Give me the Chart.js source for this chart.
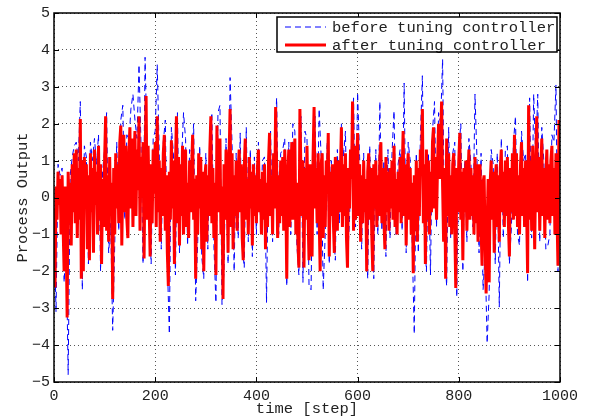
<!DOCTYPE html>
<html>
<head>
<meta charset="utf-8">
<title>Process Output</title>
<script src="https://cdn.jsdelivr.net/npm/chart.js@4.4.1/dist/chart.umd.min.js"></script>
<style>
  body { margin: 0; background: #fff; }
</style>
</head>
<body>
<canvas id="myChart" width="590" height="418"></canvas>

<script>
  const seriesNames = ["before tuning controller", "after tuning controller"];

  // sampling of the time axis: before-series every 4 steps, after-series every 2
  const beforeStep = 4;
  const afterStep = 2;

  // before tuning (blue dashed), steps 0,4,...,1000
  const beforeTuning = [
    -0.5, -3.1, 0.9, 0.6, 0.8, -2.3, -1.2, -4.8, 0.6, 1.1, 1.4, 1.5, 1.0, 2.6, -2.5, 1.4, 1.1, -1.8, 1.5, 1.0, 1.6, 0.9, 1.7, -2.0, 0.7,
    1.3, 2.3, -1.5, -0.7, -3.6, -1.3, 1.5, -0.9, 2.1, 2.5, -0.6, 1.7, 1.5, 2.4, 2.8, 2.1, 1.6, 3.6, 1.4, -1.8, 3.8, 1.3, -0.4, -1.8, 1.6,
    1.8, 3.6, 1.2, -1.4, 1.5, 2.1, -1.8, -3.7, 1.9, 1.2, -2.1, 2.3, -1.5, 1.0, 2.3, 1.6, -1.3, 1.3, 1.1, 2.0, -2.8, -1.2, 1.4, -1.6, -2.2,
    1.2, -1.4, 1.6, 2.3, -1.3, -2.85, 2.3, 2.5, -2.9, -2.0, 1.6, -1.8, 3.25, 1.4, -2.0, 1.2, -1.1, 1.75, -1.3, -1.9, 1.9, -1.2, 1.3, -1.6, 1.1,
    -1.0, 1.5, -0.6, 1.0, 1.1, -2.85, 1.2, 1.8, -1.2, 1.4, 2.7, -1.0, 1.2, 1.3, 1.6, -2.4, 1.5, -1.0, 2.0, 1.8, -1.3, -2.1, 2.2, -2.3, 1.8,
    1.6, -2.4, -2.5, 1.3, 2.2, -1.0, 2.4, 1.1, -2.5, -1.0, 1.5, -1.8, 1.0, -0.8, -1.7, 1.3, -0.7, 2.0, 1.1, 1.8, -1.8, -0.6, 1.5, 2.7, -0.8,
    2.85, 1.1, -1.4, 1.2, -0.8, -2.2, 1.4, -1.2, -2.2, 1.3, -1.0, 2.6, -0.9, 1.0, -1.6, 1.3, -1.1, 1.2, 2.35, -1.0, 0.9, 1.3, -0.9, 3.1, -1.5,
    1.5, 1.0, -1.3, -3.7, 1.2, -1.5, 1.6, 3.3, -0.9, -2.0, 1.2, -2.1, 1.8, 2.6, -0.8, 2.3, 2.0, 3.75, -1.5, -2.4, 1.9, -1.1, 1.2, 1.5, -2.7,
    1.3, 2.0, -2.0, 1.0, -1.2, 1.6, 0.9, -0.8, 2.8, 1.0, -1.5, 1.2, -2.5, -1.5, -3.95, -2.6, 1.3, 0.9, -1.8, 1.2, -2.97, 1.6, -1.1, 1.3, 1.4,
    -1.8, -0.8, 1.5, 2.2, -1.0, -1.3, 1.8, 1.0, 1.2, -2.3, 2.7, -1.1, 2.8, 1.1, 2.8, -1.2, 1.9, 1.0, -1.4, -1.3, -1.0, 1.7, 1.5, 3.05, -2.0,
    2.0
  ];

  // after tuning (red solid), steps 0,2,...,1000
  const afterTuning = [
    -0.3, -2.44, 0.3, -0.6, 0.7, -0.2, 0.5, -1.0, 0.6, -0.8, -2.0, 0.3, -0.9, -3.25, 0.7, -0.5, 0.4, -1.3, 0.9, -0.4, 1.2, -0.7, 1.3, -1.1, 0.8,
    -0.6, 2.13, -2.2, 1.0, -2.0, 1.1, -0.3, 0.9, -1.4, 0.6, -1.7, 1.2, -0.4, 0.8, -1.5, 1.3, -0.2, 0.7, -1.0, 1.4, -0.6, 0.9, -1.8, 0.5, -0.8,
    1.0, 2.2, -0.9, 0.6, -1.2, 1.1, -0.5, 0.4, -2.75, 0.8, -1.0, 1.2, -0.3, 0.9, -0.7, 1.5, 1.95, -1.3, 0.7, 1.7, -0.4, 1.4, -0.6, -1.1, 1.2,
    1.9, -0.3, 1.6, -0.8, 1.0, 1.8, -0.5, 1.3, 0.2, 2.2, -0.9, 1.1, 0.4, 1.5, -1.65, 1.0, 2.75, -0.6, 1.4, -0.2, -1.6, 0.9, -0.7, 1.3, 0.1,
    1.5, -0.8, 2.2, -0.4, 1.0, -1.2, 0.8, -0.5, 1.2, 1.7, -0.9, 0.6, -1.5, -2.4, 0.7, -0.6, 1.55, -0.3, 1.0, -1.8, 0.8, 2.2, -0.7, 1.1, -1.3,
    0.9, -0.5, 1.4, -1.0, 0.6, 1.3, -0.8, 0.4, -1.1, 1.0, -0.4, 0.8, 1.7, -0.6, 0.5, -2.2, 0.6, -1.0, 1.2, -0.3, 1.1, -1.4, 0.7, -2.0, 0.5,
    0.9, -1.2, 0.6, -0.5, 1.3, 2.2, -0.7, 0.8, -1.1, 0.4, -2.1, 1.95, -0.4, 1.0, 1.6, -1.0, 0.3, -2.75, 0.9, -0.6, 1.3, 0.5, -1.5, 1.1, 2.4,
    -0.8, 1.2, -1.4, 0.6, -0.5, 1.0, -0.9, 0.7, 1.3, -0.4, 0.9, -1.1, -1.7, 0.8, 1.6, -0.6, 0.5, -1.0, 1.1, -0.3, 0.7, -1.3, 0.9, -0.5, 0.6,
    -0.7, 0.8, 1.3, -0.4, 0.5, -1.0, 0.7, -0.6, 0.9, -1.4, 0.4, -0.8, 1.0, 1.75, -0.5, 0.6, -1.0, 1.2, -0.3, 2.45, 0.8, -1.1, 0.6, -0.7, 1.0,
    -0.5, 1.1, -0.9, 1.3, 0.3, -2.2, 0.6, 1.3, -0.8, 0.5, 1.5, -0.6, 0.9, 1.6, -1.0, 0.4, -1.2, -1.9, 2.4, 0.7, -0.5, 1.0, -1.9, 0.8, -0.6,
    1.4, -0.4, -1.7, 0.9, -0.8, -1.6, 1.1, 2.45, -0.3, 0.8, -0.7, 1.2, -0.5, -2.0, 0.9, 1.2, -1.1, 0.6, -0.8, 1.0, 0.4, 1.75, -1.6, 0.7, -0.5,
    0.9, -0.6, -1.5, 1.1, 0.3, -0.9, 1.0, -0.4, 0.7, 1.9, -0.8, 0.9, -0.5, 1.2, -1.1, -1.9, 0.8, -0.3, 1.3, 0.5, 2.6, -0.9, 1.4, -0.6, 0.8,
    1.75, -0.5, 0.9, -1.2, 0.6, -0.7, 1.0, -0.4, 0.5, -2.0, 0.7, 1.2, -0.6, 0.8, -1.0, -2.0, 0.9, -0.3, 1.0, -0.8, 0.6, -0.5, 1.1, 1.5, -0.7,
    0.8, -0.6, -1.4, 1.1, -0.4, 0.7, -0.9, 0.8, -0.3, 1.0, -0.6, 1.4, -0.8, 0.5, -1.0, 0.7, -0.4, 1.1, -0.7, 0.6, 1.8, -0.5, 0.9, -1.3, 0.6,
    1.2, -0.6, 0.8, -1.0, 0.4, -2.05, 0.6, -0.9, 1.0, -1.2, 0.8, -0.5, 1.3, 0.6, 2.4, -0.7, 0.9, -1.8, 1.3, -0.6, 1.0, -1.0, 0.7, -0.4, 1.5,
    1.9, -0.3, 1.1, -0.6, 0.9, 2.0, 0.5, 1.5, 2.6, 0.3, -1.2, 0.8, -2.2, 1.6, -0.5, 1.2, -0.8, 0.6, -1.0, 0.9, 1.2, -0.7, -2.45, 0.8, -0.4,
    1.0, 1.75, -0.6, 0.7, -1.7, 0.8, -0.4, 1.0, -0.9, 0.5, 1.3, -0.6, 0.8, -0.5, 0.6, -1.0, 1.1, -0.7, 0.9, -1.2, 0.5, 0.9, -0.8, -1.85, 0.4,
    0.6, -1.2, -2.6, -0.8, 0.5, -2.3, 0.4, 1.0, -0.6, 0.7, -1.5, 0.5, 0.9, -0.8, 0.6, -1.2, 0.8, 1.3, -0.4, 0.7, -0.8, 1.0, -0.5, 1.1, -0.7,
    -1.6, 0.8, -0.4, 1.2, -0.6, 1.7, -0.5, 1.2, -0.8, 0.6, -1.0, 0.9, 1.5, -0.5, 0.8, -0.8, 1.0, -0.3, -2.05, 2.5, -0.6, 1.0, -0.9, 1.4, 0.3,
    -1.4, 0.9, 2.2, -0.4, 1.1, -0.9, 0.7, 1.6, -0.5, 0.8, -1.1, 0.6, 1.3, -0.6, 0.9, -0.7, 1.0, 1.4, -0.5, 0.8, -1.0, 1.2, -0.4, -1.85, 2.1,
    1.6
  ];

  const xTicks = { min: 0, max: 1000, step: 200 };
  const yTicks = { min: -5, max: 5, step: 1 };

  const monoFont = "'Liberation Mono', 'DejaVu Sans Mono', monospace";

  function toPoints(values, step) {
    return values.map((v, i) => ({ x: i * step, y: v }));
  }

  // box, inward ticks and the legend, MATLAB style
  const matlabFrame = {
    id: 'matlabFrame',
    afterDatasetsDraw(chart) {
      const { ctx, chartArea: a, scales: { x, y } } = chart;
      ctx.save();
      ctx.strokeStyle = '#000';
      ctx.lineWidth = 1;
      ctx.beginPath();
      x.ticks.forEach(t => {
        const px = Math.round(x.getPixelForValue(t.value)) + 0.5;
        ctx.moveTo(px, a.bottom); ctx.lineTo(px, a.bottom - 5);
        ctx.moveTo(px, a.top); ctx.lineTo(px, a.top + 5);
      });
      y.ticks.forEach(t => {
        const py = Math.round(y.getPixelForValue(t.value)) + 0.5;
        ctx.moveTo(a.left, py); ctx.lineTo(a.left + 5, py);
        ctx.moveTo(a.right, py); ctx.lineTo(a.right - 5, py);
      });
      ctx.stroke();
      ctx.lineWidth = 1.5;
      ctx.strokeRect(a.left, a.top, a.right - a.left, a.bottom - a.top);

      // legend
      const bx = 277, by = 17, bw = 280, bh = 35;
      ctx.fillStyle = '#fff';
      ctx.fillRect(bx, by, bw, bh);
      const ds = chart.data.datasets;
      const rows = [27, 45];
      ds.forEach((d, i) => {
        ctx.beginPath();
        ctx.strokeStyle = d.borderColor;
        ctx.lineWidth = d.borderWidth;
        ctx.setLineDash(d.borderDash || []);
        ctx.moveTo(285, rows[i]);
        ctx.lineTo(326, rows[i]);
        ctx.stroke();
        ctx.setLineDash([]);
        ctx.fillStyle = '#222';
        ctx.font = '15.5px ' + monoFont;
        ctx.textBaseline = 'middle';
        ctx.fillText(d.label, 332, rows[i] + 1);
      });
      ctx.strokeStyle = '#000';
      ctx.lineWidth = 1.5;
      ctx.strokeRect(bx, by, bw, bh);
      ctx.restore();
    }
  };

  new Chart("myChart", {
    type: "line",
    data: {
      datasets: [
        {
          label: seriesNames[0],
          data: toPoints(beforeTuning, beforeStep),
          borderColor: "#0000ff",
          borderWidth: 1,
          borderDash: [6, 4],
          order: 2
        },
        {
          label: seriesNames[1],
          data: toPoints(afterTuning, afterStep),
          borderColor: "#ff0000",
          borderWidth: 3,
          order: 1
        }
      ]
    },
    options: {
      responsive: false,
      animation: false,
      devicePixelRatio: 1,
      layout: { padding: { top: 10, right: 30, left: 0, bottom: 0 } },
      elements: {
        point: { radius: 0 },
        line: { tension: 0, fill: false, borderJoinStyle: 'miter' }
      },
      plugins: {
        legend: { display: false },
        tooltip: { enabled: false }
      },
      scales: {
        x: {
          type: 'linear',
          min: xTicks.min,
          max: xTicks.max,
          afterFit(s) { s.height = 36; },
          ticks: {
            stepSize: xTicks.step,
            color: '#222',
            padding: 5,
            maxRotation: 0,
            font: { family: monoFont, size: 15 },
            callback: v => String(v)
          },
          grid: { color: '#555', drawTicks: false },
          border: { display: false, dash: [1, 3] },
          title: {
            display: true,
            text: 'time [step]',
            color: '#222',
            padding: { top: 0, bottom: 0 },
            font: { family: monoFont, size: 15.5 }
          }
        },
        y: {
          min: yTicks.min,
          max: yTicks.max,
          afterFit(s) { s.width = 54; },
          ticks: {
            stepSize: yTicks.step,
            color: '#222',
            padding: 4,
            font: { family: monoFont, size: 15 },
            callback: v => String(v).replace('-', '\u2212')
          },
          grid: { color: '#555', drawTicks: false },
          border: { display: false, dash: [1, 3] },
          title: {
            display: true,
            text: 'Process Output',
            color: '#222',
            padding: { top: 14, bottom: 0 },
            font: { family: monoFont, size: 15.5 }
          }
        }
      }
    },
    plugins: [matlabFrame]
  });
</script>
</body>
</html>
